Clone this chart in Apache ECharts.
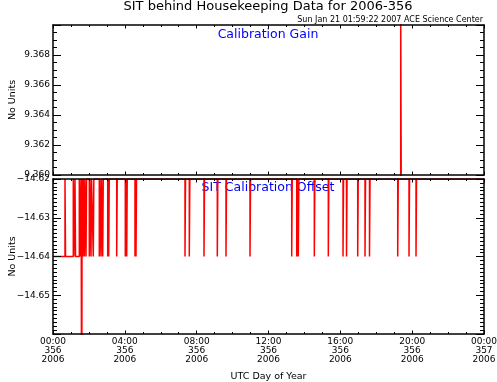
<!DOCTYPE html>
<html><head><meta charset="utf-8">
<script src="https://cdn.jsdelivr.net/npm/echarts@6/dist/echarts.min.js"></script>
<style>html,body{margin:0;padding:0;background:#fff}#c{width:497px;height:382px}</style>
</head><body><div id="c"></div>
<script>
const xTickLabels = ['00:00\n356\n2006','04:00\n356\n2006','08:00\n356\n2006','12:00\n356\n2006','16:00\n356\n2006','20:00\n356\n2006','00:00\n357\n2006'];
const gainTickLabels = ['9.360','9.362','9.364','9.366','9.368'];
const offsetTickLabels = ['\u221214.62','\u221214.63','\u221214.64','\u221214.65'];

// Calibration Gain (hours of day 356)
const gainTimes  = [0.0,   19.362, 19.392, 23.98];
const gainValues = [9.359, 9.371,  9.359,  9.359];

// SIT Calibration Offset (hours of day 356)
const offsetTimes = [
  0.000, 0.668, 0.698, 1.130, 1.160, 1.225, 1.255, 1.465, 1.495, 1.559, 1.575, 1.598, 1.620,
  1.654, 1.684, 1.743, 1.773, 1.838, 1.868, 2.021, 2.051, 2.116, 2.146, 2.244, 2.274,
  2.578, 2.608, 2.673, 2.703, 2.768, 2.798, 3.046, 3.076, 3.102, 3.132, 3.547, 3.577,
  4.026, 4.056, 4.104, 4.134, 4.566, 4.596, 4.622, 4.652, 7.350, 7.380, 7.590, 7.620,
  8.408, 8.438, 9.149, 9.179, 9.633, 9.663, 10.970, 11.000, 13.292, 13.322, 13.571, 13.601,
  13.660, 13.690, 14.551, 14.581, 15.330, 15.360, 16.149, 16.179, 16.344, 16.374,
  16.967, 16.997, 17.374, 17.404, 17.624, 17.654, 19.195, 19.225, 19.824, 19.854,
  20.214, 20.244, 23.980
];
const offsetValues = [
  -14.64, -14.62, -14.64, -14.62, -14.64, -14.62, -14.64, -14.62, -14.64, -14.62, -14.64, -14.70, -14.62,
  -14.64, -14.62, -14.64, -14.62, -14.64, -14.62, -14.64, -14.62, -14.64, -14.62, -14.64, -14.62,
  -14.64, -14.62, -14.64, -14.62, -14.64, -14.62, -14.64, -14.62, -14.64, -14.62, -14.64, -14.62,
  -14.64, -14.62, -14.64, -14.62, -14.64, -14.62, -14.64, -14.62, -14.64, -14.62, -14.64, -14.62,
  -14.64, -14.62, -14.64, -14.62, -14.64, -14.62, -14.64, -14.62, -14.64, -14.62, -14.64, -14.62,
  -14.64, -14.62, -14.64, -14.62, -14.64, -14.62, -14.64, -14.62, -14.64, -14.62,
  -14.64, -14.62, -14.64, -14.62, -14.64, -14.62, -14.64, -14.62, -14.64, -14.62,
  -14.64, -14.62, -14.62
];

const FONT = 'DejaVu Sans';
const lineCol = '#000';

function xAx(grid, pos, labels) {
  return {
    type: 'value', gridIndex: grid, position: pos, min: 0, max: 24, interval: 4, z: 5,
    axisLine: { show: true, onZero: false, lineStyle: { color: lineCol, width: 1.5 } },
    axisTick: { show: true, inside: true, length: 3.5, lineStyle: { color: lineCol, width: 1 } },
    minorTick: { show: true, splitNumber: 4, length: 2, lineStyle: { color: lineCol, width: 1 } },
    splitLine: { show: false },
    axisLabel: labels ? {
      show: true, fontFamily: FONT, fontSize: 9, color: '#000', lineHeight: 9, margin: 3,
      formatter: v => xTickLabels[Math.round(v / 4)] || ''
    } : { show: false },
    name: labels ? 'UTC Day of Year' : '', nameLocation: 'middle', nameGap: 38, nameMoveOverlap: false,
    nameTextStyle: { fontFamily: FONT, fontSize: 9.5, color: '#000' }
  };
}
function yAx(grid, pos, min, max, interval, minorSplit, fmt, showMin, showMax) {
  return {
    type: 'value', gridIndex: grid, position: pos, min: min, max: max, interval: interval, z: 5,
    axisLine: { show: true, onZero: false, lineStyle: { color: lineCol, width: 1.5 } },
    axisTick: { show: true, inside: true, length: 8, lineStyle: { color: lineCol, width: 1 } },
    minorTick: { show: true, splitNumber: minorSplit, length: 4, lineStyle: { color: lineCol, width: 1 } },
    splitLine: { show: false },
    axisLabel: fmt ? { show: true, fontFamily: FONT, fontSize: 9, color: '#000', margin: 3,
      showMinLabel: showMin, showMaxLabel: showMax, formatter: fmt } : { show: false },
    name: fmt ? 'No Units' : '', nameLocation: 'middle', nameGap: 35, nameRotate: 90, nameMoveOverlap: false,
    nameTextStyle: { fontFamily: FONT, fontSize: 9.5, color: '#000' }
  };
}

const chart = echarts.init(document.getElementById('c'), null, { renderer: 'canvas' });
chart.setOption({
  animation: false,
  backgroundColor: '#fff',
  grid: [
    { left: 53, right: 13, top: 25, height: 150, containLabel: false, outerBoundsMode: 'none' },
    { left: 53, right: 13, top: 179, height: 155, containLabel: false, outerBoundsMode: 'none' }
  ],
  xAxis: [ xAx(0, 'bottom', false), xAx(0, 'top', false), xAx(1, 'bottom', true), xAx(1, 'top', false) ],
  yAxis: [
    yAx(0, 'left', 9.36, 9.37, 0.002, 4, v => gainTickLabels[Math.round((v - 9.36) / 0.002)] || '', true, false),
    yAx(0, 'right', 9.36, 9.37, 0.002, 4, null),
    yAx(1, 'left', -14.66, -14.62, 0.01, 10, v => offsetTickLabels[Math.round((-14.62 - v) / 0.01)] || '', false, true),
    yAx(1, 'right', -14.66, -14.62, 0.01, 10, null)
  ],
  graphic: [
    { type: 'text', x: 268, y: 7, z: 1, style: { text: 'SIT behind Housekeeping Data for 2006-356', fontFamily: FONT, fontSize: 13, fill: '#000', align: 'center', verticalAlign: 'middle' } },
    { type: 'text', x: 483, y: 20, z: 1, style: { text: 'Sun Jan 21 01:59:22 2007 ACE Science Center', fontFamily: FONT, fontSize: 8, fill: '#000', align: 'right', verticalAlign: 'middle' } },
    { type: 'text', x: 268, y: 34.5, z: 1, style: { text: 'Calibration Gain', fontFamily: FONT, fontSize: 12.5, fill: '#0000ff', align: 'center', verticalAlign: 'middle' } },
    { type: 'text', x: 268, y: 188, z: 1, style: { text: 'SIT Calibration Offset', fontFamily: FONT, fontSize: 12.5, fill: '#0000ff', align: 'center', verticalAlign: 'middle' } }
  ],
  series: [
    { type: 'line', xAxisIndex: 0, yAxisIndex: 0, step: 'end', showSymbol: false, clip: true, z: 2,
      lineStyle: { color: '#ff0000', width: 1.5 },
      data: gainTimes.map((t, i) => [t, gainValues[i]]) },
    { type: 'line', xAxisIndex: 2, yAxisIndex: 2, step: 'end', showSymbol: false, clip: true, z: 2,
      lineStyle: { color: '#ff0000', width: 1.5 },
      data: offsetTimes.map((t, i) => [t, offsetValues[i]]) }
  ]
});
</script>
</body></html>
